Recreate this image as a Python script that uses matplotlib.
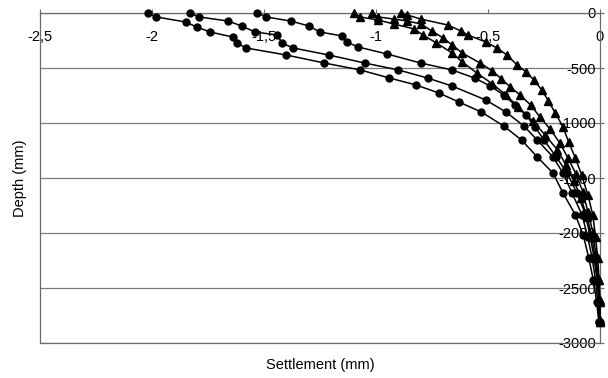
import matplotlib
matplotlib.use("Agg")
import matplotlib.pyplot as plt
from matplotlib.ticker import FixedLocator, FuncFormatter

plt.rcParams['font.family'] = ['Liberation Sans', 'DejaVu Sans']

# ---- data (settlement in mm, depth in mm) ----
c1_depth = [0, 36, 82, 127, 173, 218, 273, 318, 382, 455, 518, 591, 655, 727, 809, 900, 1027,
            1155, 1309, 1455, 1636, 1836, 2018, 2227, 2427, 2627, 2809]
c1_settle = [-2.02, -1.98, -1.85, -1.80, -1.74, -1.64, -1.62, -1.58, -1.40, -1.23, -1.07, -0.94,
             -0.82, -0.72, -0.63, -0.53, -0.43, -0.35, -0.28, -0.21, -0.165, -0.11, -0.075,
             -0.05, -0.03, -0.015, -0.005]

c2_depth = [0, 36, 73, 118, 173, 200, 273, 318, 382, 455, 518, 591, 664, 791, 900, 1027, 1155,
            1309, 1455, 1636, 1836, 2036, 2227, 2427, 2627, 2809]
c2_settle = [-1.83, -1.79, -1.66, -1.60, -1.54, -1.44, -1.42, -1.37, -1.21, -1.05, -0.90, -0.77,
             -0.66, -0.51, -0.42, -0.34, -0.28, -0.21, -0.165, -0.125, -0.08, -0.055, -0.035,
             -0.02, -0.01, -0.004]

c3_depth = [0, 36, 73, 118, 173, 209, 264, 309, 373, 455, 518, 591, 664, 745, 836, 927, 1036,
            1155, 1309, 1455, 1636, 1818, 2018, 2218, 2427, 2627, 2809]
c3_settle = [-1.53, -1.49, -1.38, -1.30, -1.25, -1.15, -1.13, -1.08, -0.95, -0.80, -0.66, -0.56,
             -0.49, -0.43, -0.38, -0.33, -0.29, -0.25, -0.195, -0.147, -0.103, -0.067, -0.045,
             -0.027, -0.013, -0.005, 0.0]

t1_depth = [0, 36, 64, 100, 145, 200, 273, 364, 445, 545, 645, 745, 855, 982, 1109, 1245, 1382,
            1527, 1682, 1855, 2036, 2227, 2427, 2627, 2809]
t1_settle = [-1.10, -1.07, -0.99, -0.92, -0.83, -0.79, -0.73, -0.66, -0.615, -0.55, -0.48, -0.42,
             -0.365, -0.30, -0.245, -0.19, -0.152, -0.116, -0.085, -0.058, -0.036, -0.022,
             -0.009, -0.004, 0.0]

t2_depth = [0, 36, 55, 73, 100, 164, 227, 291, 364, 455, 527, 600, 673, 745, 836, 945, 1055,
            1182, 1318, 1464, 1627, 1809, 2000, 2200, 2409, 2609, 2791]
t2_settle = [-1.02, -0.99, -0.92, -0.86, -0.80, -0.75, -0.70, -0.66, -0.615, -0.535, -0.48, -0.44,
             -0.40, -0.357, -0.31, -0.268, -0.223, -0.179, -0.143, -0.107, -0.076, -0.054,
             -0.031, -0.018, -0.009, 0.0, 0.0]

t3_depth = [0, 18, 55, 109, 164, 200, 264, 318, 382, 473, 536, 609, 700, 800, 909, 1036, 1173,
            1318, 1473, 1655, 1836, 2036, 2227, 2427, 2627, 2809]
t3_settle = [-0.89, -0.86, -0.80, -0.68, -0.62, -0.59, -0.51, -0.46, -0.415, -0.37, -0.33, -0.295,
             -0.26, -0.23, -0.20, -0.165, -0.14, -0.11, -0.082, -0.054, -0.032, -0.02, -0.01,
             -0.004, -0.001, 0.0]

x_ticks = [-2.5, -2.0, -1.5, -1.0, -0.5, 0.0]
y_ticks = [0, -500, -1000, -1500, -2000, -2500, -3000]

series = [
    (c1_settle, c1_depth, 'o'),
    (c2_settle, c2_depth, 'o'),
    (c3_settle, c3_depth, 'o'),
    (t1_settle, t1_depth, '^'),
    (t2_settle, t2_depth, '^'),
    (t3_settle, t3_depth, '^'),
]

fig = plt.figure(figsize=(6.08, 3.78), dpi=100)
ax = fig.add_axes([40 / 608, 1 - 343 / 378, 560 / 608, 330 / 378])

for xs, ds, mk in series:
    ax.plot(xs, [-d for d in ds], color='black', linewidth=1.1, marker=mk,
            markersize=5.0 if mk == 'o' else 5.6, markerfacecolor='black',
            markeredgecolor='black', zorder=3, clip_on=False)

ax.set_xlim(-2.5, 0)
ax.set_ylim(-3000, 0)

ax.xaxis.set_major_locator(FixedLocator(x_ticks))
ax.yaxis.set_major_locator(FixedLocator(y_ticks))


def comma_fmt(v, pos):
    s = ('%g' % v).replace('.', ',')
    return '0' if s in ('-0', '0') else s


ax.xaxis.set_major_formatter(FuncFormatter(comma_fmt))
ax.yaxis.set_major_formatter(FuncFormatter(lambda v, p: '%d' % v))

ax.grid(axis='y', color='#7a7a7a', linewidth=0.9)
ax.grid(axis='x', visible=False)

for s in ax.spines.values():
    s.set_color('#6a6a6a')
    s.set_linewidth(0.9)

ax.tick_params(axis='x', bottom=False, labelbottom=False, top=True, labeltop=True,
               direction='out', length=3, color='#6a6a6a', pad=-15, labelsize=10.5)
ax.tick_params(axis='y', left=False, labelleft=False, right=True, labelright=True,
               direction='out', length=3, color='#6a6a6a', pad=-6, labelsize=10.5)
for t in ax.yaxis.get_major_ticks():
    t.label2.set_horizontalalignment('right')
for t in ax.xaxis.get_major_ticks():
    t.label2.set_verticalalignment('top')

ax.set_xlabel('Settlement (mm)', fontsize=10.5)
ax.set_ylabel('Depth (mm)', fontsize=10.5)
ax.yaxis.set_label_position('left')
ax.xaxis.set_label_position('bottom')
ax.xaxis.set_label_coords(0.5, -0.045)
ax.yaxis.set_label_coords(-0.024, 0.5)

fig.savefig('out.png', dpi=100)
